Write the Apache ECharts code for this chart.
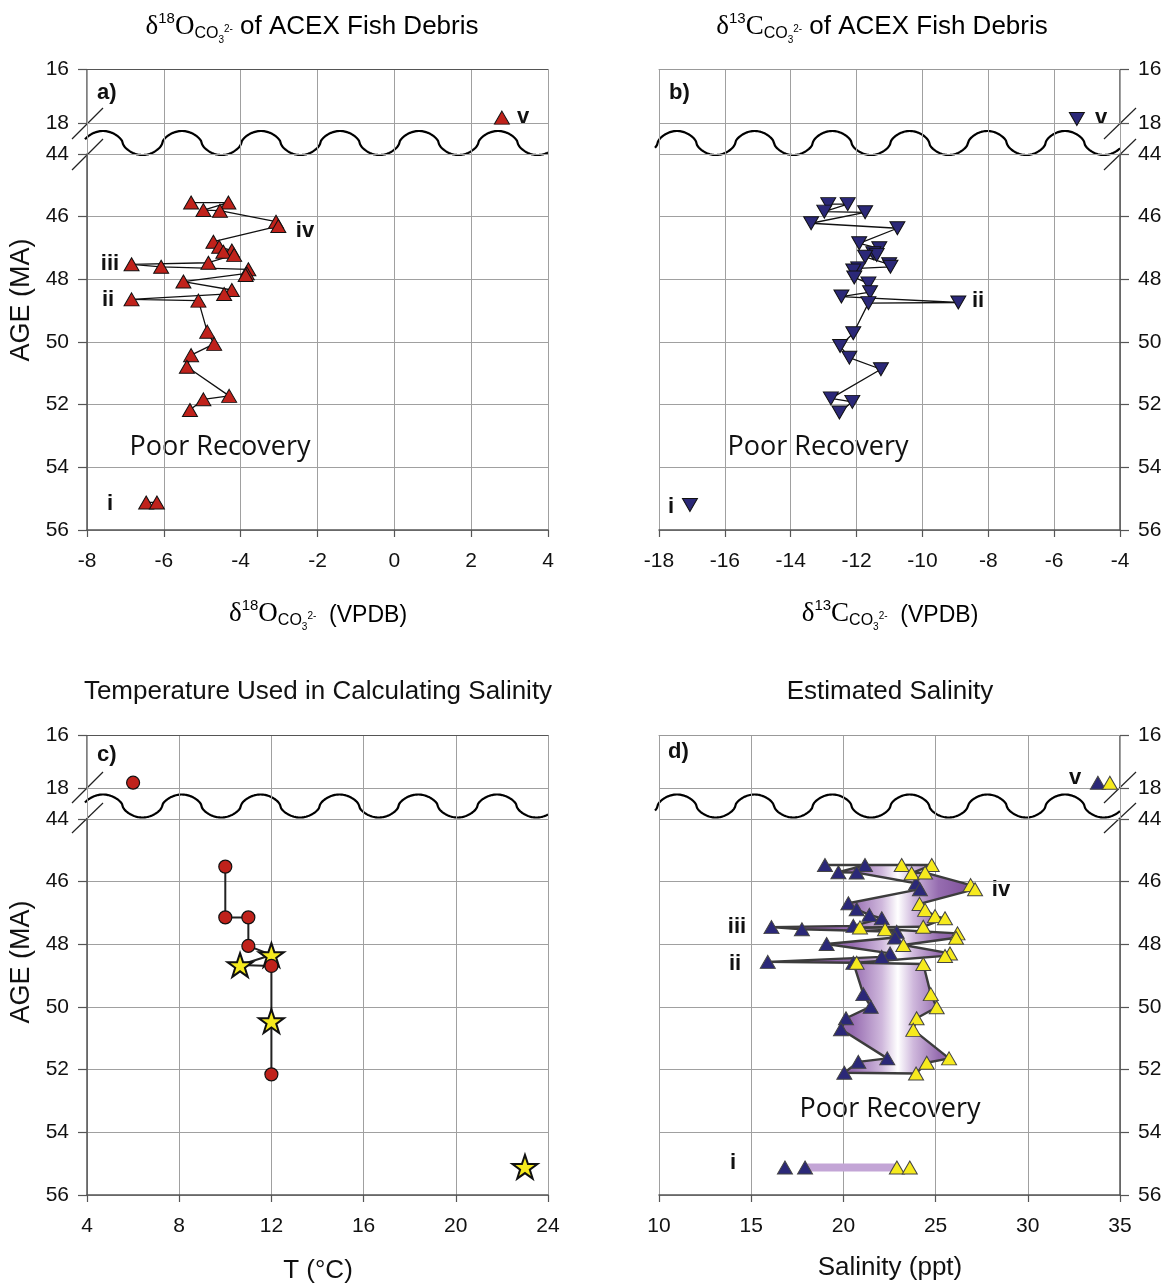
<!DOCTYPE html>
<html>
<head>
<meta charset="utf-8">
<title>ACEX fish debris isotopes and salinity</title>
<script src="https://cdn.jsdelivr.net/npm/echarts@6/dist/echarts.min.js"></script>
<style>
  html, body { margin: 0; padding: 0; background: #fff; }
  #main { width: 1169px; height: 1285px; }
</style>
</head>
<body>
<div id="main"></div>
<script>
// a) d18O of fish debris (permil VPDB) against age (Ma)
const d18oAge = [45.55, 45.55, 45.79, 45.81, 46.16, 46.30, 46.80, 46.96, 47.08, 47.12, 47.22, 47.47, 47.52, 47.60, 47.68, 47.81, 47.86, 48.07, 48.34, 48.47, 48.64, 48.68, 49.67, 50.06, 50.42, 50.79, 51.72, 51.83, 52.17];
const d18oVal = [-5.29, -4.32, -4.97, -4.54, -3.08, -3.02, -4.71, -4.56, -4.23, -4.45, -4.17, -4.84, -6.84, -6.07, -3.80, -3.84, -3.87, -5.49, -4.23, -4.43, -6.84, -5.10, -4.87, -4.69, -5.29, -5.40, -4.30, -4.97, -5.32];
const d18oTopAge = [17.8];
const d18oTopVal = [2.8];
const d18oBaseAge = [55.12, 55.12];
const d18oBaseVal = [-6.46, -6.18];

// b) d13C of fish debris
const d13cAge = [45.60, 45.60, 45.84, 45.86, 46.21, 46.37, 46.85, 47.01, 47.17, 47.22, 47.28, 47.52, 47.60, 47.65, 47.72, 47.94, 48.13, 48.41, 48.55, 48.74, 48.76, 49.72, 50.13, 50.50, 50.87, 51.80, 51.91, 52.25];
const d13cVal = [-12.86, -12.27, -12.98, -11.74, -13.38, -10.76, -11.92, -11.31, -11.49, -11.39, -11.74, -11.01, -10.97, -11.95, -12.10, -12.07, -11.64, -11.59, -12.46, -8.91, -11.64, -12.10, -12.50, -12.22, -11.26, -12.78, -12.13, -12.52];
const d13cTopAge = [17.85];
const d13cTopVal = [-5.31];
const d13cBaseAge = [55.2];
const d13cBaseVal = [-17.06];

// c) temperature used for the salinity estimate
const tempAge = [45.52, 47.14, 47.14, 48.05, 48.34, 48.66, 48.69, 50.45, 52.15];
const tempVal = [10, 10, 11, 11, 12, 10.64, 12, 12, 12];
const tempKind = ['circle', 'circle', 'circle', 'circle', 'star', 'star', 'circle', 'star', 'circle'];
const tempTopAge = [17.8];
const tempTopVal = [6];
const tempBaseAge = [55.1];
const tempBaseVal = [23];

// d) estimated salinity (ppt), low (blue) and high (yellow) estimate
const salLowAge = [45.47, 45.47, 45.70, 45.71, 46.05, 46.24, 46.69, 46.88, 47.06, 47.17, 47.41, 47.45, 47.52, 47.60, 47.78, 47.99, 48.29, 48.40, 48.56, 48.59, 49.59, 49.99, 50.36, 50.71, 51.64, 51.75, 52.10];
const salLowVal = [19.0, 21.17, 19.73, 20.72, 23.94, 24.15, 20.27, 20.72, 21.41, 22.08, 20.54, 16.1, 17.75, 22.89, 22.80, 19.09, 22.53, 22.08, 15.9, 20.54, 21.08, 21.48, 20.14, 19.87, 22.38, 20.81, 20.05];
const salHighAge = [45.47, 45.47, 45.73, 45.71, 46.11, 46.24, 46.71, 46.90, 47.10, 47.17, 47.44, 47.46, 47.52, 47.65, 47.79, 48.02, 48.29, 48.37, 48.59, 48.63, 49.59, 50.01, 50.36, 50.73, 51.64, 51.78, 52.12];
const salHighVal = [23.16, 24.79, 23.70, 24.43, 26.90, 27.14, 24.13, 24.43, 24.97, 25.51, 24.33, 20.90, 22.26, 26.19, 26.11, 23.25, 25.78, 25.51, 20.72, 24.33, 24.74, 25.06, 23.97, 23.79, 25.73, 24.52, 23.94];
const salTopAge = [17.8];
const salTopLow = [33.8];
const salTopHigh = [34.45];
const salBaseAge = [55.12, 55.12];
const salBaseLow = [16.83, 17.92];
const salBaseHigh = [22.9, 23.6];

const upperTicks = [16, 18];
const FONT = "'Liberation Sans', Arial, sans-serif";

const zip = (xs, ys) => xs.map((x, i) => [x, ys[i]]);

const chart = echarts.init(document.getElementById('main'));

const grids = [], xAxes = [], yAxes = [];
const gridColor = '#a0a0a0';
const axisColor = '#555';

function addPanel(p) {
  const idx = grids.length;
  grids.push({ left: p.left, top: p.top, width: 461, height: p.split - p.top, outerBoundsMode: 'none' });
  grids.push({ left: p.left, top: p.split, width: 461, height: p.bottom - p.split, outerBoundsMode: 'none' });
  const xBase = { type: 'value', min: p.xMin, max: p.xMax, interval: p.xStep,
    splitLine: { show: true, lineStyle: { color: gridColor, width: 1 } } };
  xAxes.push(Object.assign({}, xBase, {
    gridIndex: idx, position: 'top',
    axisLine: { show: true, onZero: false, lineStyle: { color: p.topColor, width: 1 } },
    axisTick: { show: false }, axisLabel: { show: false }
  }));
  xAxes.push(Object.assign({}, xBase, {
    gridIndex: idx + 1, position: 'bottom',
    axisLine: { show: true, onZero: false, lineStyle: { color: axisColor, width: 1.5 } },
    axisTick: { show: true, length: 7, lineStyle: { color: axisColor, width: 1.2 } },
    axisLabel: { fontSize: 21, color: '#111', fontFamily: FONT, margin: 21 }
  }));
  const yTick = { show: true, length: 9, lineStyle: { color: axisColor, width: 1.2 } };
  yAxes.push({
    gridIndex: idx, type: 'value', inverse: true, min: 16, max: p.topMax, interval: 2,
    position: p.yPos,
    axisLine: { show: false, onZero: false }, axisTick: yTick,
    axisLabel: { fontSize: 21, color: '#111', fontFamily: FONT, margin: 18, showMaxLabel: false,
      formatter: v => upperTicks.indexOf(v) >= 0 ? String(v) : '' },
    splitLine: { show: true, lineStyle: { color: gridColor, width: 1 } }
  });
  yAxes.push({
    gridIndex: idx + 1, type: 'value', inverse: true, min: 44, max: 56, interval: 2,
    position: p.yPos,
    axisLine: { show: true, onZero: false, lineStyle: { color: axisColor, width: 1.5 } }, axisTick: yTick,
    axisLabel: { fontSize: 21, color: '#111', fontFamily: FONT, margin: 18 },
    splitLine: { show: true, lineStyle: { color: gridColor, width: 1 } }
  });
  return idx;
}

const pa = addPanel({ left: 87, top: 69.5, split: 154, bottom: 530, topMax: 19.16, xMin: -8, xMax: 4, xStep: 2, yPos: 'left', topColor: '#555' });
const pb = addPanel({ left: 659, top: 69.5, split: 154, bottom: 530, topMax: 19.16, xMin: -18, xMax: -4, xStep: 2, yPos: 'right', topColor: '#999' });
const pc = addPanel({ left: 87, top: 735, split: 819, bottom: 1195, topMax: 19.17, xMin: 4, xMax: 24, xStep: 4, yPos: 'left', topColor: '#555' });
const pd = addPanel({ left: 659, top: 735, split: 819, bottom: 1195, topMax: 19.17, xMin: 10, xMax: 35, xStep: 5, yPos: 'right', topColor: '#999' });

const red = '#c0221b', navy = '#2b2878', yellow = '#f6ea1e';
const lineStyle = { color: '#111', width: 1.3 };
const triUp = { symbol: 'triangle', symbolSize: [15, 13] };
const triDown = { symbol: 'triangle', symbolSize: [15, 13], symbolRotate: 180 };
const starPath = 'path://M50,0 L61.8,35.3 L99,35.3 L69,57.4 L80.3,93 L50,71.2 L19.7,93 L31,57.4 L1,35.3 L38.2,35.3 Z';

function pointSeries(grid, data, mark, fill, extra) {
  return Object.assign({
    type: 'line', xAxisIndex: grid, yAxisIndex: grid, data: data,
    showAllSymbol: true, showSymbol: true, lineStyle: lineStyle, z: 5,
    itemStyle: { color: fill, borderColor: '#111', borderWidth: 1, opacity: 1 },
    emphasis: { disabled: true }
  }, mark, extra || {});
}
const dot = (fill) => ({ type: 'scatter', itemStyle: { color: fill, borderColor: '#444', borderWidth: 1, opacity: 1 } });

const series = [
  // a)
  pointSeries(pa + 1, zip(d18oVal, d18oAge), triUp, red),
  pointSeries(pa + 1, zip(d18oBaseVal, d18oBaseAge), triUp, red),
  pointSeries(pa, zip(d18oTopVal, d18oTopAge), triUp, red),
  // b)
  pointSeries(pb + 1, zip(d13cVal, d13cAge), triDown, navy),
  pointSeries(pb + 1, zip(d13cBaseVal, d13cBaseAge), triDown, navy),
  pointSeries(pb, zip(d13cTopVal, d13cTopAge), triDown, navy),
  // c)
  pointSeries(pc + 1, tempVal.map((t, i) => {
    const star = tempKind[i] === 'star';
    return {
      value: [t, tempAge[i]],
      symbol: star ? starPath : 'circle',
      symbolSize: star ? 25 : 13,
      itemStyle: star ? { color: yellow, borderColor: '#111', borderWidth: 2 } : { color: red, borderColor: '#111', borderWidth: 1.2 }
    };
  }), { symbolKeepAspect: true }, red, { lineStyle: { color: '#222', width: 2 } }),
  pointSeries(pc + 1, zip(tempBaseVal, tempBaseAge), { symbol: starPath, symbolSize: 25, symbolKeepAspect: true }, yellow,
    { itemStyle: { color: yellow, borderColor: '#111', borderWidth: 2 } }),
  pointSeries(pc, zip(tempTopVal, tempTopAge), { symbol: 'circle', symbolSize: 13 }, red,
    { itemStyle: { color: red, borderColor: '#111', borderWidth: 1.2 } }),
  // d) ribbon between the two salinity estimates
  {
    type: 'custom', xAxisIndex: pd + 1, yAxisIndex: pd + 1, z: 2, silent: true,
    data: [[20, 48]],
    renderItem: function (params, api) {
      const pts = [];
      salLowAge.forEach((a, i) => pts.push(api.coord([salLowVal[i], a])));
      for (let i = salHighAge.length - 1; i >= 0; i--) pts.push(api.coord([salHighVal[i], salHighAge[i]]));
      return {
        type: 'polygon', shape: { points: pts },
        style: {
          fill: new echarts.graphic.LinearGradient(0, 0, 1, 0, [
            { offset: 0, color: '#7a4a96' }, { offset: 0.41, color: '#976cb1' },
            { offset: 0.55, color: '#cfb8dc' }, { offset: 0.626, color: '#ffffff' },
            { offset: 0.70, color: '#cfb8dc' }, { offset: 0.82, color: '#966db0' },
            { offset: 1, color: '#7a4a96' }
          ]),
          stroke: '#3c3c3c', lineWidth: 2.4, lineJoin: 'round'
        }
      };
    }
  },
  {
    type: 'line', xAxisIndex: pd + 1, yAxisIndex: pd + 1, z: 2, symbol: 'none', silent: true,
    data: [[salBaseLow[salBaseLow.length - 1], salBaseAge[0]], [salBaseHigh[0], salBaseAge[0]]],
    lineStyle: { color: '#c3a5d6', width: 8 }
  },
  pointSeries(pd + 1, zip(salLowVal, salLowAge), triUp, navy, dot(navy)),
  pointSeries(pd + 1, zip(salHighVal, salHighAge), triUp, yellow, dot(yellow)),
  pointSeries(pd + 1, zip(salBaseLow, salBaseAge), triUp, navy, dot(navy)),
  pointSeries(pd + 1, zip(salBaseHigh, salBaseAge), triUp, yellow, dot(yellow)),
  pointSeries(pd, zip(salTopLow, salTopAge), triUp, navy, dot(navy)),
  pointSeries(pd, zip(salTopHigh, salTopAge), triUp, yellow, dot(yellow))
];

// wavy "break" line across each panel
function wave(x0, x1, yc, amp, period, crestX) {
  const pts = [];
  for (let x = x0; x <= x1; x += 1) {
    const s = Math.cos(2 * Math.PI * (x - crestX) / period);
    pts.push([x, yc - amp * Math.sign(s) * Math.pow(Math.abs(s), 0.6)]);
  }
  return pts;
}
const waveStyle = { stroke: '#000', lineWidth: 2.2, fill: null };
const slashStyle = { stroke: '#222', lineWidth: 1.2 };
const seg = (x1, y1, x2, y2, style) => ({ type: 'line', shape: { x1, y1, x2, y2 }, style: style, silent: true });

// rich text pieces for the isotope notation (offsets measured from the line bottom)
function scriptRich(nSize, nLh) {
  const tok = (size, lh, pb, family) => ({
    fontSize: size, fontFamily: family || FONT, lineHeight: lh, padding: [0, 0, pb, 0],
    verticalAlign: 'bottom', color: '#111'
  });
  return {
    n: tok(nSize, nLh, 7),
    d: tok(27, 30, 7, "'Liberation Serif', serif"),
    sp: tok(15, 15, 21),
    sb: tok(16, 16, 5),
    ss: tok(10, 10, 2),
    sq: tok(10, 10, 13)
  };
}
const richText = (x, yBottom, text, nSize, nLh) => ({
  type: 'text', x: x, y: yBottom, silent: true,
  style: { text: text, rich: scriptRich(nSize, nLh), align: 'center', verticalAlign: 'bottom' }
});
const plain = (x, y, text, size, opts) => ({
  type: 'text', x: x, y: y, silent: true, rotation: (opts && opts.rotation) || 0,
  style: Object.assign({ text: text, fontSize: size, fontFamily: FONT, fill: '#111', align: 'center', verticalAlign: 'middle' },
    (opts && opts.style) || {})
});
const bold = (x, y, text) => plain(x, y, text, 22, { style: { fontWeight: 'bold' } });
const poor = (x, y) => plain(x, y, 'Poor Recovery', 27, { style: { fontFamily: "'Open Sans', sans-serif" } });

const graphics = [
  { type: 'polyline', shape: { points: wave(85, 548, 143, 12, 79, 103) }, style: waveStyle, silent: true },
  { type: 'polyline', shape: { points: wave(655, 1120, 143, 12, 77.6, 677) }, style: waveStyle, silent: true },
  { type: 'polyline', shape: { points: wave(85, 548, 806, 11.5, 78.8, 103) }, style: waveStyle, silent: true },
  { type: 'polyline', shape: { points: wave(655, 1120, 806, 11.5, 77.6, 677) }, style: waveStyle, silent: true },
  seg(87, 69.5, 87, 123, { stroke: axisColor, lineWidth: 1.5 }),
  seg(1120, 69.5, 1120, 123, { stroke: axisColor, lineWidth: 1.5 }),
  seg(87, 735, 87, 788, { stroke: axisColor, lineWidth: 1.5 }),
  seg(1120, 735, 1120, 788, { stroke: axisColor, lineWidth: 1.5 }),
  seg(72, 139, 103, 108, slashStyle), seg(72, 170, 103, 139, slashStyle),
  seg(1104, 139, 1136, 108, slashStyle), seg(1104, 170, 1136, 139, slashStyle),
  seg(72, 803, 103, 772, slashStyle), seg(72, 833, 103, 803, slashStyle),
  seg(1104, 803, 1136, 772, slashStyle), seg(1104, 833, 1136, 803, slashStyle),

  richText(312, 47, '{d|δ}{sp|18}{d|O}{sb|CO}{ss|3}{sq|2-}{n| of ACEX Fish Debris}', 26, 30),
  richText(882, 47, '{d|δ}{sp|13}{d|C}{sb|CO}{ss|3}{sq|2-}{n| of ACEX Fish Debris}', 26, 30),
  plain(318, 692, 'Temperature Used in Calculating Salinity', 26),
  plain(890, 692, 'Estimated Salinity', 26),

  richText(318, 634, '{d|δ}{sp|18}{d|O}{sb|CO}{ss|3}{sq|2-}{n|  (VPDB)}', 23, 27),
  richText(890, 634, '{d|δ}{sp|13}{d|C}{sb|CO}{ss|3}{sq|2-}{n|  (VPDB)}', 23, 27),
  plain(318, 1271, 'T (°C)', 26),
  plain(890, 1268, 'Salinity (ppt)', 26),
  plain(22, 300, 'AGE (MA)', 27, { rotation: Math.PI / 2 }),
  plain(22, 962, 'AGE (MA)', 27, { rotation: Math.PI / 2 }),

  plain(97, 93, 'a)', 22, { style: { fontWeight: 'bold', align: 'left' } }),
  plain(669, 93, 'b)', 22, { style: { fontWeight: 'bold', align: 'left' } }),
  plain(97, 755, 'c)', 22, { style: { fontWeight: 'bold', align: 'left' } }),
  plain(668, 752, 'd)', 22, { style: { fontWeight: 'bold', align: 'left' } }),

  bold(523, 117, 'v'), bold(305, 231, 'iv'), bold(110, 264, 'iii'), bold(108, 300, 'ii'), bold(110, 504, 'i'),
  bold(1101, 118, 'v'), bold(978, 301, 'ii'), bold(671, 507, 'i'),
  bold(1075, 778, 'v'), bold(1001, 890, 'iv'), bold(737, 927, 'iii'), bold(735, 964, 'ii'), bold(733, 1163, 'i'),

  poor(220, 447), poor(818, 447), poor(890, 1109)
];

chart.setOption({
  animation: false,
  backgroundColor: '#fff',
  grid: grids,
  xAxis: xAxes,
  yAxis: yAxes,
  series: series,
  graphic: graphics
});
</script>
</body>
</html>
